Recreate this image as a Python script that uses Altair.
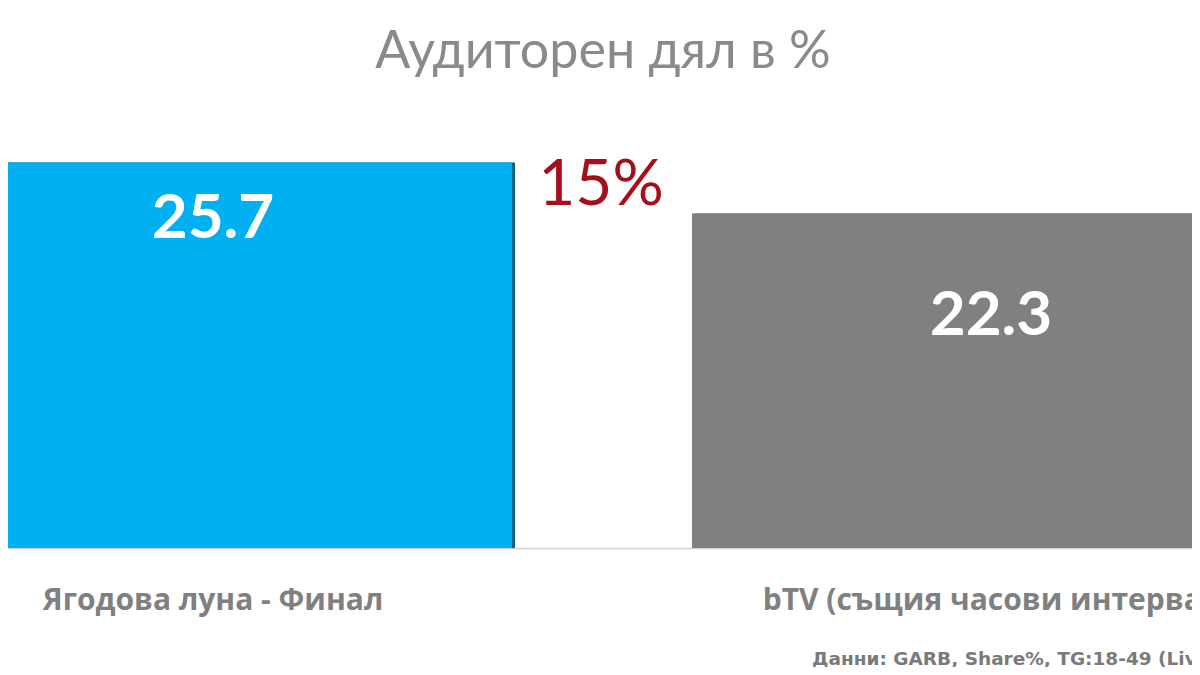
import altair as alt
import pandas as pd

categories = ["Ягодова луна - Финал", "bTV (същия часови интервал)"]
values = [25.7, 22.3]
bar_colors = ["#00B0F0", "#808080"]
edge_colors = ["#0b6283", "#4d4d4d"]
title_text = "Аудиторен дял в %"
diff_text = "15%"
source_text = "Данни: GARB, Share%, TG:18-49 (Live)"

df = pd.DataFrame({"cat": categories, "val": values, "color": bar_colors, "edge": edge_colors})

W, H = 1184, 540
FONT = "Lato"

x_scale = alt.Scale(domain=categories, range=[-97, 1291], paddingInner=0.2296, paddingOuter=0)
y_scale = alt.Scale(domain=[0, 36])

x_axis = alt.Axis(title=None, ticks=False, domain=True, domainColor="#d0d0d0",
                  domainWidth=1.5, labelFont="Open Sans", labelFontSize=30,
                  labelFontWeight="bold", labelColor="#808080", labelPadding=52,
                  labelLimit=0, labelAngle=0, labelBaseline="middle", labelAlign="center",
                  labelOverlap=False)
x_enc = alt.X("cat:N", scale=x_scale, sort=categories, axis=x_axis)
y_enc = alt.Y("val:Q", scale=y_scale, axis=None)

shadow = alt.Chart(df).mark_bar(clip=True).encode(
    x=x_enc, y=y_enc, color=alt.Color("edge:N", scale=None)
)
face = alt.Chart(df).mark_bar(clip=True, xOffset=-3).encode(
    x=x_enc, y=y_enc,
    y2=alt.value(H - 6),
    color=alt.Color("color:N", scale=None),
)

lab1 = alt.Chart(df).transform_filter(alt.datum.cat == categories[0]).mark_text(
    font=FONT, fontSize=62, fontWeight="bold", color="white", dy=56, baseline="middle"
).encode(x=x_enc, y=y_enc, text=alt.Text("val:Q", format=".1f"))
lab2 = alt.Chart(df).transform_filter(alt.datum.cat == categories[1]).mark_text(
    font=FONT, fontSize=62, fontWeight="bold", color="white", dy=102, dx=-6, baseline="middle"
).encode(x=x_enc, y=y_enc, text=alt.Text("val:Q", format=".1f"))

title = alt.Chart(pd.DataFrame({"t": [title_text]})).mark_text(
    font=FONT, fontSize=52, color="#8a8a8a", baseline="middle").encode(
    x=alt.value(595), y=alt.value(44), text="t:N")
diff = alt.Chart(pd.DataFrame({"t": [diff_text]})).mark_text(
    font=FONT, fontSize=64, color="#A50E1A", baseline="middle").encode(
    x=alt.value(593), y=alt.value(178), text="t:N")
source = alt.Chart(pd.DataFrame({"t": [source_text]})).mark_text(
    font="DejaVu Sans", fontSize=18.5, fontWeight="bold", color="#7a7a7a", align="left",
    baseline="middle").encode(x=alt.value(804), y=alt.value(651), text="t:N")

chart = alt.layer(shadow, face, lab1, lab2, title, diff, source).properties(
    width=W, height=H,
    background="white",
    autosize=alt.AutoSizeParams(type="none"),
    padding={"left": 0, "top": 0, "right": 0, "bottom": 119},
).configure_view(strokeWidth=0, stroke=None)

chart.save("out.html", embed_options={"renderer": "svg", "actions": False})
